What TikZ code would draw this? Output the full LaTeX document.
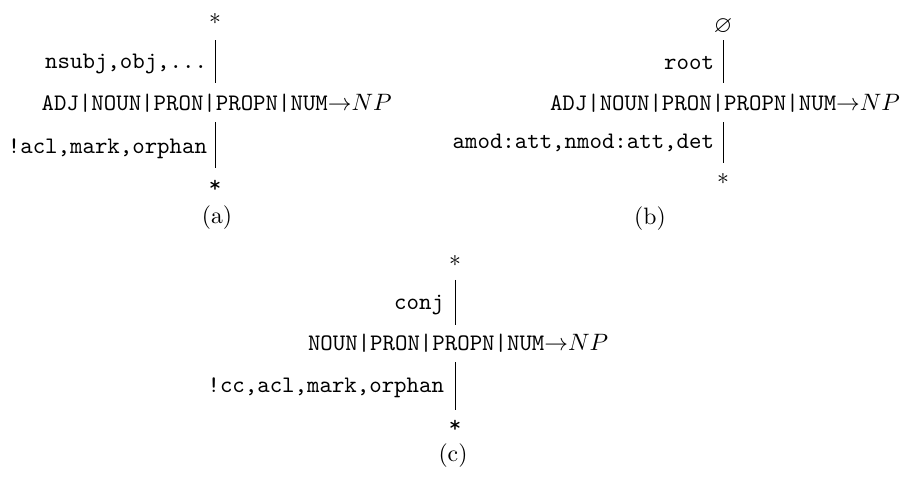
\documentclass[tikz,border=0pt]{standalone}
\usepackage{amssymb}
\begin{document}
\begin{tikzpicture}[x=0.4219pt,y=-0.4219pt,
  every node/.style={inner sep=0pt,outer sep=0pt},
  ctr/.style={anchor=base west,text height=7pt,text depth=2pt},
  star/.style={anchor=base,text height=5pt,text depth=0pt},
  ttstar/.style={anchor=base,text height=6.5pt,text depth=0pt,font=\ttfamily},
  lbl/.style={anchor=mid east,font=\ttfamily},
  captxt/.style={anchor=center},
  vl/.style={line width=0.4pt}]
\useasboundingbox (0,0) rectangle (900,480);
% (a)
\node[ctr] (ca) at (41.7,110) {\texttt{ADJ|NOUN|PRON|PROPN|NUM}$\rightarrow$$NP$};
\node[star] (ta) at (215,24) {$*$};
\node[ttstar] (ba) at (215,192) {*};
\draw[vl,shorten <=6.75pt,shorten >=4.4pt] (ta.south) -- (ta.south |- ca.north);
\draw[vl,shorten <=3.1pt,shorten >=3.6pt] (ba.north |- ca.south) -- (ba.north);
\node[lbl] (la1) at (207,63) {nsubj,obj,...};
\node[lbl] (la2) at (207,148) {!acl,mark,orphan};
\node[captxt] (capa) at (217,218) {(a)};
% (b)
\node[ctr] (cb) at (550,110) {\texttt{ADJ|NOUN|PRON|PROPN|NUM}$\rightarrow$$NP$};
\node[star,text height=5.4pt] (tb) at (723,32) {$\varnothing$};
\node[star] (bb) at (723,184) {$*$};
\draw[vl,shorten <=3.4pt,shorten >=4.4pt] (tb.south) -- (tb.south |- cb.north);
\draw[vl,shorten <=3.1pt,shorten >=3.8pt] (bb.north |- cb.south) -- (bb.north);
\node[lbl] (lb1) at (714,64) {root};
\node[lbl] (lb2) at (714,143) {amod:att,nmod:att,det};
\node[captxt] (capb) at (650,219) {(b)};
% (c)
\node[ctr] (cc) at (308,350) {\texttt{NOUN|PRON|PROPN|NUM}$\rightarrow$$NP$};
\node[star] (tc) at (455,266) {$*$};
\node[ttstar] (bc) at (455,432) {*};
\draw[vl,shorten <=5.9pt,shorten >=3.5pt] (tc.south) -- (tc.south |- cc.north);
\draw[vl,shorten <=3.1pt,shorten >=2.8pt] (bc.north |- cc.south) -- (bc.north);
\node[lbl] (lc1) at (444,304) {conj};
\node[lbl] (lc2) at (444,387) {!cc,acl,mark,orphan};
\node[captxt] (capc) at (453,456) {(c)};
\end{tikzpicture}
\end{document}
